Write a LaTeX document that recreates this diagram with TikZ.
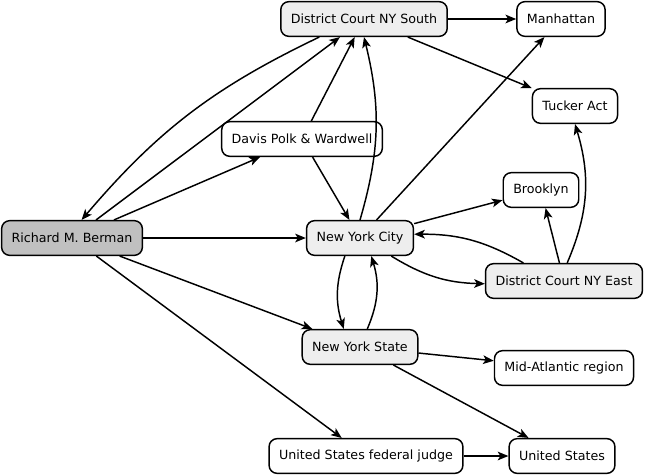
\documentclass[tikz,border=0pt]{standalone}
\usepackage{fontspec}
\setmainfont{DejaVu Sans}
\usepackage{tikz}
\usetikzlibrary{
arrows.meta
}
\definecolor{courtgray}{HTML}{EEEEEE}
\definecolor{persongray}{HTML}{C0C0C0}

\begin{document}
\begin{tikzpicture}[
x=0.75pt, y=-0.75pt,
entity/.style={
rectangle,
rounded corners=6pt,
draw=black,
line width=1.1pt,
fill=white,
inner xsep=7.5pt,
minimum height=26pt,
font=\fontsize{9.5}{11}\selectfont,
align=center
},
place/.style={
entity,
fill=courtgray
},
person/.style={
entity,
fill=persongray
},
arrow/.style={-{Stealth[length=8pt,width=6.5pt,inset=2pt]},line width=1.1pt}
]

\useasboundingbox (0,0) rectangle (645,474);

\node[place] (dcnys) at (364,19) {District Court NY South};
\node[entity] (manhattan) at (561,19) {Manhattan};
\node[entity] (tucker) at (575,106) {Tucker Act};
\node[entity] (davis) at (302,139) {Davis Polk \& Wardwell};
\node[entity] (brooklyn) at (541,190) {Brooklyn};
\node[person] (berman) at (72,238) {Richard M. Berman};
\node[place] (nyc) at (360,238) {New York City};
\node[place] (dcnye) at (564,281) {District Court NY East};
\node[place] (nys) at (360,347) {New York State};
\node[entity] (midatl) at (564,368) {Mid-Atlantic region};
\node[entity] (judge) at (366,456) {United States federal judge};
\node[entity] (us) at (562,456) {United States};

\draw[arrow] (dcnys.202) to[bend right=12] (berman.62);
\draw[arrow] (berman) -- (dcnys);
\draw[arrow] (berman) -- (davis);
\draw[arrow] (davis) -- (dcnys);
\draw[arrow] (davis) -- (nyc);
\draw[arrow] (nyc.north) to[bend right=15] (dcnys.south);
\draw[arrow] (dcnys) -- (manhattan);
\draw[arrow] (dcnys) -- (tucker);
\draw[arrow] (nyc) -- (manhattan);
\draw[arrow] (berman) -- (nyc);
\draw[arrow] (nyc) -- (brooklyn);
\draw[arrow] (dcnye) -- (brooklyn);
\draw[arrow] (dcnye.80) to[bend right=20] (tucker.south);
\draw[arrow] (dcnye.156) to[bend right=15] (nyc.4);
\draw[arrow] (nyc.-30) to[bend right=15] (dcnye.182);
\draw[arrow] (nyc.230) to[bend right=18] (nys.132);
\draw[arrow] (nys.68) to[bend right=20] (nyc.-58);
\draw[arrow] (berman) -- (nys);
\draw[arrow] (berman) -- (judge);
\draw[arrow] (nys) -- (midatl);
\draw[arrow] (nys) -- (us);
\draw[arrow] (judge) -- (us);

\end{tikzpicture}
\end{document}
